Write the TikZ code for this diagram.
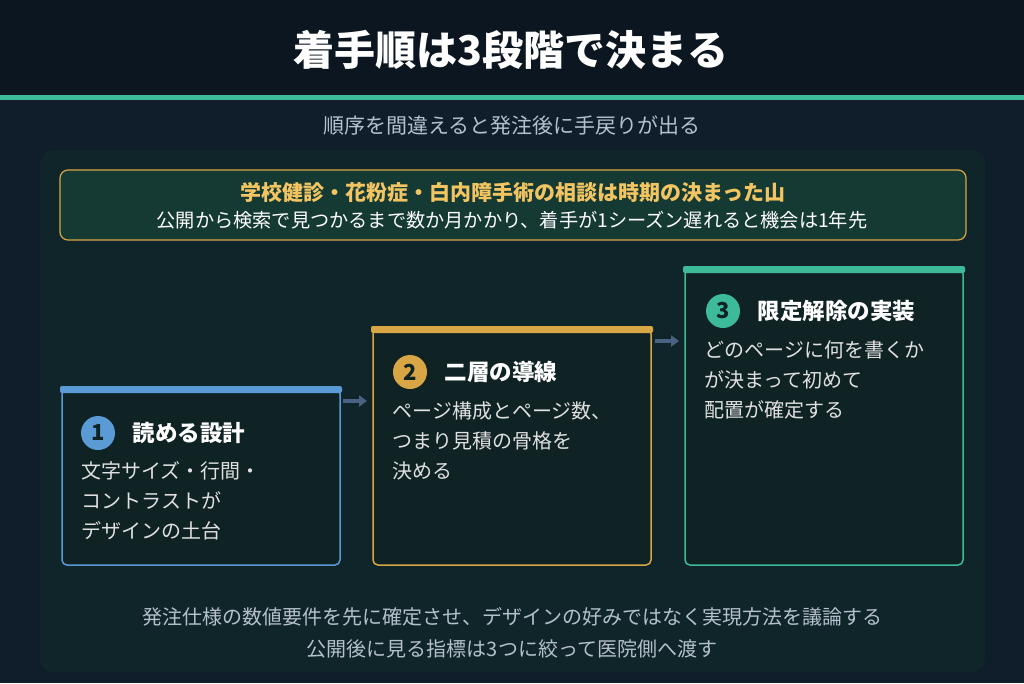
\documentclass[tikz,border=0pt]{standalone}
\usepackage{fontspec}
\setmainfont{Noto Sans CJK JP}
\usetikzlibrary{positioning,arrows.meta}
\definecolor{bgtop}{HTML}{0B1620}
\definecolor{bgmain}{HTML}{101E2B}
\definecolor{panel}{HTML}{10252A}
\definecolor{banner}{HTML}{143A33}
\definecolor{gold}{HTML}{D9A645}
\definecolor{goldtxt}{HTML}{F2C462}
\definecolor{teal}{HTML}{3DBB98}
\definecolor{blue}{HTML}{5A9BD5}
\definecolor{cardfill}{HTML}{0F2224}
\definecolor{arrowc}{HTML}{4A6282}
\definecolor{subtxt}{HTML}{B4C0CC}
\tikzset{
  card/.style={draw=#1,line width=1.5pt,fill=cardfill,rounded corners=5pt},
  bar/.style={fill=#1,rounded corners=2pt},
  badge/.style={circle,fill=#1,minimum size=34pt,inner sep=0pt,font=\fontsize{22}{22}\selectfont\bfseries,text=cardfill},
  head/.style={anchor=west,text=white,font=\fontsize{22.5}{26}\selectfont\bfseries},
  body/.style={anchor=north west,align=left,text=white!88!black,font=\fontsize{20}{30}\selectfont},
  flow/.style={-{Triangle[length=8pt,width=11pt]},line width=3.5pt,draw=arrowc}
}
\begin{document}
\begin{tikzpicture}[x=1pt,y=-1pt]
\useasboundingbox (0,0) rectangle (1024,683);
\fill[bgmain] (0,0) rectangle (1024,683);
\fill[bgtop] (0,0) rectangle (1024,97);
\fill[teal] (0,95) rectangle (1024,100);
\node (title) at (511,50) {\fontsize{41}{46}\selectfont\bfseries\color{white}着手順は3段階で決まる};
\node (sub) at (512,126) {\fontsize{21}{24}\selectfont\color{subtxt}順序を間違えると発注後に手戻りが出る};

% panel
\fill[panel,rounded corners=14pt] (40,150) rectangle (985,672);
\draw[gold,line width=1.2pt,fill=banner,rounded corners=8pt] (60,170) rectangle (966,240);
\node (bt) at (513,192) {\fontsize{21}{24}\selectfont\bfseries\color{goldtxt}学校健診・花粉症・白内障手術の相談は時期の決まった山};
\node (bb) at (512,220) {\fontsize{19.2}{22}\selectfont\color{white}公開から検索で見つかるまで数か月かかり、着手が1シーズン遅れると機会は1年先};

% cards
\draw[card=blue] (62,389) rectangle (340,565);
\fill[bar=blue] (60,386) rectangle (342,393);
\draw[card=gold] (373,329) rectangle (651,565);
\fill[bar=gold] (371,326) rectangle (653,333);
\draw[card=teal] (685,269) rectangle (963,565);
\fill[bar=teal] (683,266) rectangle (965,273);

\node[badge=blue] (b1) at (98,433) {1};
\node[head,right=14pt of b1] (h1) {読める設計};
\node[body] (t1) at (78,458) {文字サイズ・行間・\\コントラストが\\デザインの土台};
\node[badge=gold] (b2) at (410,372) {2};
\node[head,right=14pt of b2] (h2) {二層の導線};
\node[body] (t2) at (389,398) {ページ構成とページ数、\\つまり見積の骨格を\\決める};
\node[badge=teal] (b3) at (723,311) {3};
\node[head,right=14pt of b3] (h3) {限定解除の実装};
\node[body] (t3) at (701,337) {どのページに何を書くか\\が決まって初めて\\配置が確定する};

\coordinate (a1s) at (343,401);
\coordinate (a1e) at (367,401);
\coordinate (a2s) at (655,341);
\coordinate (a2e) at (679,341);
\draw[flow] (a1s) -- (a1e);
\draw[flow] (a2s) -- (a2e);

\node (f1) at (512,617) {\fontsize{20}{22}\selectfont\color{subtxt}発注仕様の数値要件を先に確定させ、デザインの好みではなく実現方法を議論する};
\node (f2) at (512,649) {\fontsize{20}{22}\selectfont\color{subtxt}公開後に見る指標は3つに絞って医院側へ渡す};
\end{tikzpicture}
\end{document}
